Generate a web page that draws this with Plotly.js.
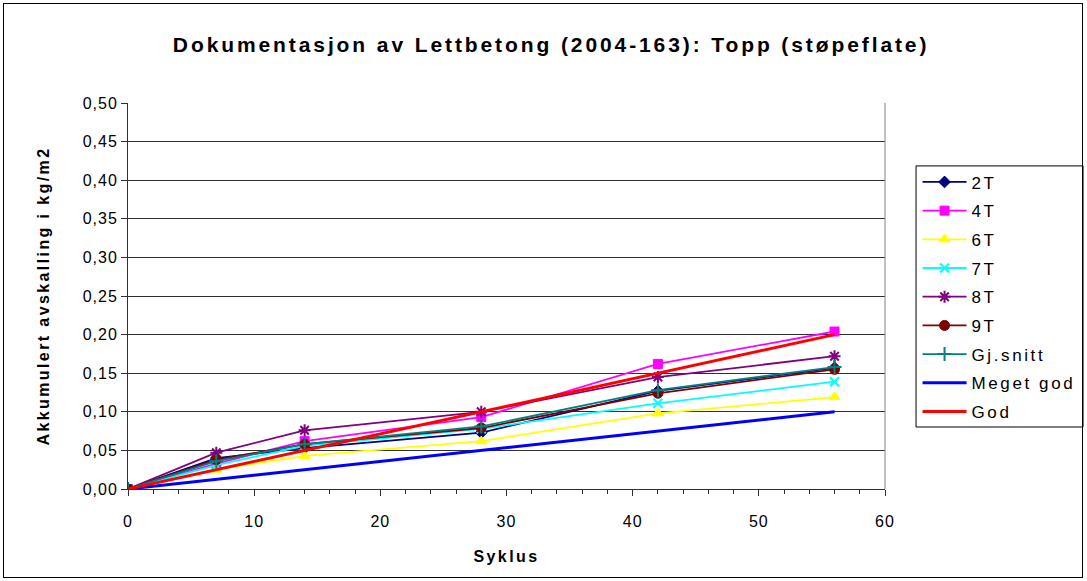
<!DOCTYPE html>
<html>
<head>
<meta charset="utf-8">
<script src="https://cdn.plot.ly/plotly-3.0.1.min.js"></script>
<style>
html,body{margin:0;padding:0;background:#fff;}
#wrap{position:relative;width:1087px;height:581px;}
#chart{width:1087px;height:581px;}
#frame{position:absolute;left:3px;top:3px;width:1078px;height:573px;border:1px solid #000;pointer-events:none;}
#chart .gtitle{letter-spacing:2.9px;}
#chart .xtitle, #chart .ytitle{letter-spacing:2.4px;}
#chart .legendtext{letter-spacing:2.6px;}
#chart .legend .scrollbox, #chart .legend{clip-path:none !important;}
#chart .xtick text, #chart .ytick text{letter-spacing:1px;}
</style>
</head>
<body>
<div id="wrap"><div id="chart"></div><div id="frame"></div></div>
<script>
const cycles = [0, 7, 14, 28, 42, 56];
const s2T = [0, 0.040, 0.053, 0.073, 0.127, 0.157];
const s4T = [0, 0.033, 0.062, 0.093, 0.162, 0.204];
const s6T = [0, 0.025, 0.043, 0.062, 0.098, 0.119];
const s7T = [0, 0.031, 0.056, 0.078, 0.111, 0.139];
const s8T = [0, 0.047, 0.076, 0.100, 0.145, 0.172];
const s9T = [0, 0.038, 0.058, 0.079, 0.124, 0.155];
const sGj = [0, 0.036, 0.058, 0.081, 0.128, 0.158];
const limitX = [0, 56];
const megetGod = [0, 0.10];
const god = [0, 0.20];

const seriesNames = ['2T', '4T', '6T', '7T', '8T', '9T', 'Gj.snitt', 'Meget god', 'God'];

function markerTrace(name, y, color, symbol, size, lw) {
  return {
    type: 'scatter', mode: 'lines+markers', name: name, x: cycles, y: y,
    legendgroup: name,
    line: {color: color, width: 1.8},
    marker: {color: color, symbol: symbol, size: size, line: {color: color, width: lw || 1}}
  };
}

const traces = [
  markerTrace(seriesNames[0], s2T, '#000080', 'diamond', 9),
  markerTrace(seriesNames[1], s4T, '#FF00FF', 'square', 9),
  markerTrace(seriesNames[2], s6T, '#FFFF00', 'triangle-up', 10),
  markerTrace(seriesNames[3], s7T, '#00FFFF', 'x-thin-open', 9, 2),
  markerTrace(seriesNames[4], s8T, '#800080', 'asterisk-open', 10, 2),
  markerTrace(seriesNames[5], s9T, '#800000', 'circle', 10),
  markerTrace(seriesNames[6], sGj, '#008080', 'cross-thin-open', 10, 2),
  {type: 'scatter', mode: 'lines', name: seriesNames[7], x: limitX, y: megetGod, legendgroup: seriesNames[7], line: {color: '#0000FF', width: 3}},
  {type: 'scatter', mode: 'lines', name: seriesNames[8], x: limitX, y: god, legendgroup: seriesNames[8], line: {color: '#FF0000', width: 3}}
];

const FONT = '"Liberation Sans", Arial, sans-serif';

const layout = {
  width: 1087, height: 581,
  paper_bgcolor: '#fff', plot_bgcolor: '#fff',
  separators: ', ',
  margin: {l: 128, r: 202, t: 103, b: 92},
  font: {family: FONT, size: 16, color: '#000'},
  title: {text: 'Dokumentasjon av Lettbetong (2004-163): Topp (støpeflate)', font: {family: FONT, size: 21, weight: 'bold', color: '#000'}, x: 0.507, xanchor: 'center', y: 0.923, yanchor: 'middle'},
  xaxis: {
    range: [0, 60], dtick: 10, tick0: 0,
    showgrid: false, zeroline: false,
    showline: true, linecolor: '#303030', linewidth: 1, mirror: false,
    ticks: 'outside', ticklen: 6, tickcolor: '#303030',
    ticklabelstandoff: 12,
    minor: {dtick: 2, ticks: 'outside', ticklen: 4, tickcolor: '#303030', showgrid: false},
    tickfont: {family: FONT, size: 16}, fixedrange: true,
    title: {text: 'Syklus', font: {family: FONT, size: 16, weight: 'bold'}, standoff: 21}
  },
  yaxis: {
    range: [0, 0.5], dtick: 0.05, tick0: 0, tickformat: '.2f',
    showgrid: true, gridcolor: '#303030', gridwidth: 1, zeroline: false,
    showline: true, linecolor: '#303030', linewidth: 1,
    ticks: 'outside', ticklen: 6, tickcolor: '#303030',
    tickfont: {family: FONT, size: 16}, fixedrange: true,
    title: {text: 'Akkumulert avskalling i kg/m2', font: {family: FONT, size: 16, weight: 'bold'}, standoff: 33}
  },
  shapes: [
    {type: 'line', xref: 'paper', yref: 'paper', x0: 1, x1: 1, y0: 0, y1: 1, line: {color: '#808080', width: 1}},
    {type: 'rect', xref: 'paper', yref: 'paper', x0: 1.041, x1: 1.2616, y0: 0.1606, y1: 0.837, line: {color: '#000', width: 1}, fillcolor: 'rgba(0,0,0,0)'}
  ],
  showlegend: true,
  legend: {
    x: 1.043, y: 0.841, xanchor: 'left', yanchor: 'top',
    borderwidth: 0, bgcolor: 'rgba(0,0,0,0)',
    font: {family: FONT, size: 17},
    itemwidth: 44,
    tracegroupgap: 3.6, traceorder: 'grouped'
  }
};

Plotly.newPlot('chart', traces, layout, {displayModeBar: false, staticPlot: true});
</script>
</body>
</html>
